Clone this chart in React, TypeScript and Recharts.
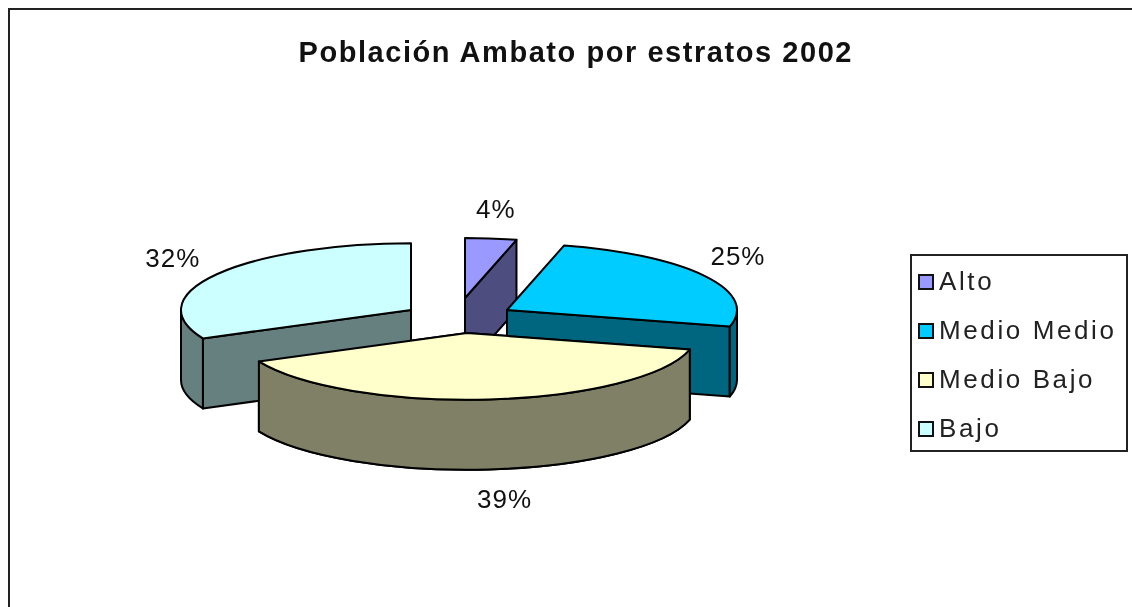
import React from 'react';
import { PieChart, Pie, Legend } from 'recharts';

const categories = ['Alto', 'Medio Medio', 'Medio Bajo', 'Bajo'];
const shares = [4, 25, 39, 32];

const topColors = ['#9999ff', '#00ccff', '#ffffcc', '#ccffff'];
const wallColors = ['#4d4d80', '#006680', '#808066', '#668080'];

// where each exploded slice sits relative to the pie centre, and its label nudge
const explode = [
  [5, -13],
  [47, -1],
  [7, 22],
  [-49, -1],
];
const labelNudge = [
  [2, -23],
  [33, -20],
  [16, 30],
  [-44, -16],
];
// Alto is further back in the 3D view, so it draws a bit smaller
const sliceScale = [0.9, 1, 1, 1];

const tableData = categories.map((name, i) => ({
  name,
  value: shares[i],
  fill: topColors[i],
}));

const WIDTH = 1132;
const HEIGHT = 607;
const CX = 460;
const CY = 311;
const RX = 230;
const TILT = 0.29;
const DEPTH = 70;
const FONT = '"Liberation Sans", Arial, sans-serif';

// clock angle (0 = 12 o'clock, clockwise) to a point on the flattened rim
const rim = (x: number, y: number, r: number, t: number) => {
  const rad = (t * Math.PI) / 180;
  return [x + r * Math.sin(rad), y - r * TILT * Math.cos(rad)];
};

const arc = (r: number, t: number, p: number[], sweep = 1) =>
  `A${r} ${r * TILT} 0 ${t > 180 ? 1 : 0} ${sweep} ${p[0]} ${p[1]}`;

const SliceBody = (props: any) => {
  const { cx, cy, outerRadius, startAngle, endAngle, index } = props;
  const [ox, oy] = explode[index];
  const r = outerRadius * sliceScale[index];
  const x = cx + ox;
  const y = cy + oy;
  const t0 = 90 - startAngle;
  const t1 = 90 - endAngle;
  const a = rim(x, y, r, t0);
  const b = rim(x, y, r, t1);
  const edge = { stroke: '#000', strokeWidth: 2, strokeLinejoin: 'round' as const };

  const cut = (p: number[], key: string) => (
    <path
      key={key}
      d={`M${x} ${y}L${p[0]} ${p[1]}L${p[0]} ${p[1] + DEPTH}L${x} ${y + DEPTH}Z`}
      fill={wallColors[index]}
      {...edge}
    />
  );

  // outer wall only shows on the front half of the rim
  const w0 = Math.max(t0, 90);
  const w1 = Math.min(t1, 270);
  let wall = null;
  if (w1 > w0) {
    const p = rim(x, y, r, w0);
    const q = rim(x, y, r, w1);
    wall = (
      <path
        d={`M${p[0]} ${p[1]}${arc(r, w1 - w0, q)}L${q[0]} ${q[1] + DEPTH}${arc(r, w1 - w0, [p[0], p[1] + DEPTH], 0)}Z`}
        fill={wallColors[index]}
        {...edge}
      />
    );
  }

  return (
    <g>
      {Math.sin((t0 * Math.PI) / 180) < -0.01 && cut(a, 'start')}
      {Math.sin((t1 * Math.PI) / 180) > 0.01 && cut(b, 'end')}
      {wall}
      <path
        d={`M${x} ${y}L${a[0]} ${a[1]}${arc(r, t1 - t0, b)}Z`}
        fill={topColors[index]}
        {...edge}
      />
    </g>
  );
};

// Medio Bajo sits in front of Bajo, so it is painted again on a second pass
const FrontSlice = (props: any) => (props.index === 2 ? <SliceBody {...props} /> : <g />);

const PercentLabel = (props: any) => {
  const { cx, cy, outerRadius, midAngle, index, percent } = props;
  const [ox, oy] = explode[index];
  const [nx, ny] = labelNudge[index];
  const p = rim(cx + ox, cy + oy, outerRadius, 90 - midAngle);
  const front = index === 2 ? DEPTH : 0;
  return (
    <text
      x={p[0] + nx}
      y={p[1] + ny + front}
      textAnchor="middle"
      dominantBaseline="central"
      fontFamily={FONT}
      fontSize={26}
      fill="#111"
      letterSpacing={1}
    >
      {`${Math.round(percent * 100)}%`}
    </text>
  );
};

const LegendBox = ({ payload }: any) => {
  // both pie passes report their items, keep the categories once and in order
  const items = categories.map((c) => (payload || []).find((e: any) => e.value === c)).filter(Boolean);
  return (
    <div
      style={{
        width: 218,
        height: 198,
        boxSizing: 'border-box',
        border: '2px solid #222',
        background: '#fff',
        padding: '1px 0 0 6px',
        fontFamily: FONT,
        fontSize: 26,
        color: '#222',
        letterSpacing: 2.6,
      }}
    >
      {items.map((entry: any) => (
        <div key={entry.value} style={{ height: 49, display: 'flex', alignItems: 'center' }}>
          <span
            style={{
              width: 16,
              height: 16,
              boxSizing: 'border-box',
              border: '2px solid #111',
              background: entry.color,
              marginRight: 5,
              flex: 'none',
            }}
          />
          <span style={{ whiteSpace: 'nowrap' }}>{entry.value}</span>
        </div>
      ))}
    </div>
  );
};

export default function App() {
  return (
    <div
      style={{
        position: 'absolute',
        left: 0,
        top: 0,
        width: WIDTH,
        height: HEIGHT,
        overflow: 'hidden',
        background: '#fff',
        filter: 'blur(0.4px)',
      }}
    >
      <div
        style={{
          position: 'absolute',
          left: 8,
          top: 8,
          width: WIDTH,
          height: HEIGHT,
          boxSizing: 'border-box',
          borderLeft: '2px solid #222',
          borderTop: '2px solid #222',
        }}
      />
      <PieChart width={WIDTH} height={HEIGHT} margin={{ top: 0, right: 0, bottom: 0, left: 0 }}>
        <text
          x={575}
          y={52}
          textAnchor="middle"
          dominantBaseline="central"
          fontFamily={FONT}
          fontWeight="bold"
          fontSize={29}
          fill="#111"
          textLength={553}
          lengthAdjust="spacing"
        >
          Población Ambato por estratos 2002
        </text>
        <Pie
          data={tableData}
          dataKey="value"
          nameKey="name"
          cx={CX}
          cy={CY}
          outerRadius={RX}
          startAngle={90}
          endAngle={-270}
          shape={SliceBody}
          label={PercentLabel}
          labelLine={false}
          isAnimationActive={false}
        />
        <Pie
          data={tableData}
          dataKey="value"
          nameKey="name"
          cx={CX}
          cy={CY}
          outerRadius={RX}
          startAngle={90}
          endAngle={-270}
          shape={FrontSlice}
          legendType="none"
          isAnimationActive={false}
        />
        <Legend
          layout="vertical"
          content={<LegendBox />}
          wrapperStyle={{ position: 'absolute', left: 910, top: 254, width: 218, margin: 0 }}
        />
      </PieChart>
    </div>
  );
}
